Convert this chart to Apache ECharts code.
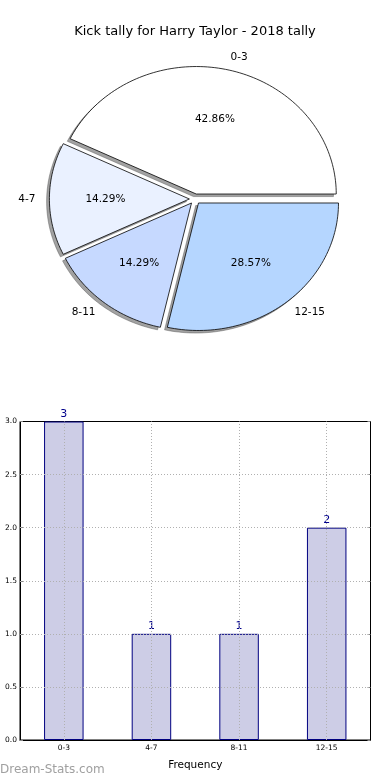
<!DOCTYPE html>
<html><head><meta charset="utf-8">
<script src="https://cdn.jsdelivr.net/npm/echarts@6/dist/echarts.min.js"></script>
<style>html,body{margin:0;padding:0;background:#fff}#c{width:390px;height:780px}</style>
</head><body><div id="c"></div>
<script>
const titleText = 'Kick tally for Harry Taylor - 2018 tally';
const categories = ['0-3', '4-7', '8-11', '12-15'];
const counts = [3, 1, 1, 2];
const sliceColors = ['#ffffff', '#eaf1ff', '#c6d9ff', '#b5d6ff'];
const explode = [0.04, 0.04, 0.04, 0.04];
const yTicks = [0, 0.5, 1, 1.5, 2, 2.5, 3];
const xName = 'Frequency';
const watermark = 'Dream-Stats.com';

const FONT = '"DejaVu Sans", sans-serif';
const total = counts.reduce((a, b) => a + b, 0);
const starts = [];
let acc = 0;
counts.forEach(v => { starts.push(acc); acc += v; });
const pctLabels = counts.map(v => (v / total * 100).toFixed(2) + '%');
const SHADOW_DX = -0.02, SHADOW_DY = -0.02;

function renderSlice(params, api) {
  const i = params.dataIndex;
  const v = api.value(1);
  const a0 = starts[i] / total * 2 * Math.PI;
  const a1 = (starts[i] + v) / total * 2 * Math.PI;
  const mid = (a0 + a1) / 2;
  const ox = explode[i] * Math.cos(mid), oy = explode[i] * Math.sin(mid);
  const n = Math.max(8, Math.ceil((a1 - a0) / (Math.PI / 120)));
  function wedge(dx, dy) {
    const pts = [api.coord([ox + dx, oy + dy])];
    for (let k = 0; k <= n; k++) {
      const a = a0 + (a1 - a0) * k / n;
      pts.push(api.coord([ox + dx + Math.cos(a), oy + dy + Math.sin(a)]));
    }
    return pts;
  }
  const pc = api.coord([ox + 0.6 * Math.cos(mid), oy + 0.6 * Math.sin(mid)]);
  const lc = api.coord([ox + 1.1 * Math.cos(mid), oy + 1.1 * Math.sin(mid)]);
  return {
    type: 'group',
    children: [
      { type: 'polygon', z2: 0, shape: { points: wedge(SHADOW_DX, SHADOW_DY) },
        style: { fill: 'rgba(70,70,70,0.5)', stroke: 'rgba(70,70,70,0.5)', lineWidth: 0.8 } },
      { type: 'polygon', z2: 5, shape: { points: wedge(0, 0) },
        style: { fill: sliceColors[i], stroke: '#000', lineWidth: 0.8 } },
      { type: 'text', x: pc[0], y: pc[1], z2: 10,
        style: { text: pctLabels[i], fill: '#000', font: '10.5px ' + FONT, align: 'center', verticalAlign: 'middle' } },
      { type: 'text', x: lc[0], y: lc[1], z2: 10,
        style: { text: categories[i], fill: '#000', font: '10.5px ' + FONT,
                 align: Math.cos(mid) > 0 ? 'left' : 'right', verticalAlign: 'middle' } }
    ]
  };
}

const gridLine = { color: '#b0b0b0', type: [1, 2], width: 1 };

const chart = echarts.init(document.getElementById('c'), null, { renderer: 'canvas' });
chart.setOption({
  animation: false,
  backgroundColor: '#fff',
  title: { text: titleText, left: 'center', top: 20,
           textStyle: { fontFamily: FONT, fontSize: 13, fontWeight: 'normal', color: '#000' } },
  grid: [
    { left: 13, top: 33.25, width: 364, height: 331.5, show: false },
    { left: 20, top: 421.5, width: 350.5, height: 318.5, show: true, borderColor: '#000', borderWidth: 1, backgroundColor: 'transparent' }
  ],
  xAxis: [
    { gridIndex: 0, type: 'value', min: -1.3, max: 1.3, show: false },
    { gridIndex: 1, type: 'category', data: categories, boundaryGap: true,
      axisLine: { lineStyle: { color: '#000', width: 1 } },
      axisTick: { show: true, inside: true, alignWithLabel: true, length: 3, lineStyle: { color: '#888' } },
      axisLabel: { fontFamily: FONT, fontSize: 7.5, color: '#000', margin: 4 },
      splitLine: { show: false },
      name: xName, nameLocation: 'middle', nameGap: 20,
      nameTextStyle: { fontFamily: FONT, fontSize: 10.5, color: '#000' } }
  ],
  yAxis: [
    { gridIndex: 0, type: 'value', min: -1.3, max: 1.3, show: false },
    { gridIndex: 1, type: 'value', min: 0, max: 3, interval: 0.5,
      axisLine: { show: true, lineStyle: { color: '#000', width: 1 } },
      axisTick: { show: true, inside: true, length: 3, lineStyle: { color: '#888' } },
      axisLabel: { fontFamily: FONT, fontSize: 7.5, color: '#000', margin: 3, formatter: v => v.toFixed(1) },
      splitLine: { show: false } },
    { gridIndex: 1, type: 'value', min: 0, max: 3, interval: 0.5, position: 'right',
      axisLine: { show: true, lineStyle: { color: '#000', width: 1 } },
      axisTick: { show: true, inside: true, length: 3, lineStyle: { color: '#888' } },
      axisLabel: { show: false }, splitLine: { show: false } }
  ],
  series: [
    { type: 'custom', xAxisIndex: 0, yAxisIndex: 0, renderItem: renderSlice,
      data: counts.map((v, i) => [i, v]), silent: true, clip: false },
    { type: 'bar', xAxisIndex: 1, yAxisIndex: 1, data: counts, barWidth: 39.5,
      itemStyle: { color: '#cdcde6', borderColor: '#000080', borderWidth: 1 },
      label: { show: true, position: 'top', distance: 2, color: '#00008b', fontFamily: FONT, fontSize: 11 },
      emphasis: { disabled: true },
      markLine: {
        silent: true, symbol: ['none', 'none'], label: { show: false }, lineStyle: gridLine,
        emphasis: { disabled: true },
        data: [
          ...categories.map(c => ({ xAxis: c })),
          ...yTicks.slice(1, -1).map(v => ({ yAxis: v }))
        ]
      } }
  ],
  graphic: [
    { type: 'text', left: 0, top: 764,
      style: { text: watermark, fill: '#a0a0a0', font: '12px ' + FONT } }
  ]
});
</script>
</body></html>
